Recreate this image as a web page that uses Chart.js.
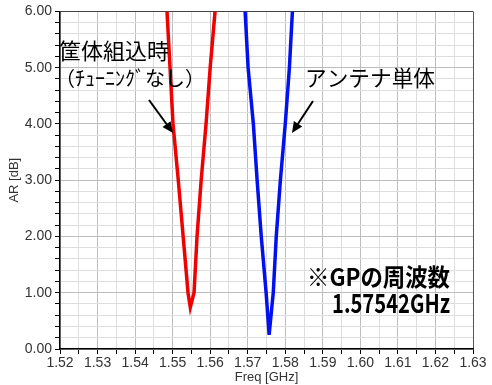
<!DOCTYPE html>
<html>
<head>
<meta charset="utf-8">
<script src="https://cdn.jsdelivr.net/npm/chart.js@4"></script>
<style>
  body { margin: 0; background: #fff; }
</style>
</head>
<body>
<canvas id="arChart" width="492" height="385"></canvas>
<script>
// AR vs frequency
const redFreq = [1.5485, 1.5493, 1.5501, 1.5515, 1.5528, 1.5541, 1.5547, 1.5557, 1.5565, 1.5576, 1.5589, 1.5600, 1.5613];
const redAR   = [6.00, 5.00, 4.00, 3.00, 2.00, 1.00, 0.74, 1.00, 2.00, 3.00, 4.00, 5.00, 6.00];
const blueFreq = [1.5693, 1.5701, 1.5715, 1.5725, 1.5736, 1.5749, 1.5757, 1.5768, 1.5776, 1.5787, 1.5800, 1.5811, 1.5819];
const blueAR   = [6.00, 5.00, 4.00, 3.00, 2.00, 1.00, 0.25, 1.00, 2.00, 3.00, 4.00, 5.00, 6.00];
const xTickLabels = ['1.52', '1.53', '1.54', '1.55', '1.56', '1.57', '1.58', '1.59', '1.60', '1.61', '1.62', '1.63'];
const yTickLabels = ['0.00', '1.00', '2.00', '3.00', '4.00', '5.00', '6.00'];

function toPoints(xs, ys) {
  return xs.map((x, i) => ({ x: x, y: ys[i] }));
}

const tickFont = { family: 'Liberation Sans, Arial, sans-serif', size: 14 };
const titleFont = { family: 'Liberation Sans, Arial, sans-serif', size: 13 };
const jpFont = '"Noto Sans CJK JP", sans-serif';

function arrow(ctx, x1, y1, x2, y2) {
  const a = Math.atan2(y2 - y1, x2 - x1);
  ctx.beginPath();
  ctx.moveTo(x1, y1);
  ctx.lineTo(x2 - 8 * Math.cos(a), y2 - 8 * Math.sin(a));
  ctx.stroke();
  ctx.beginPath();
  ctx.moveTo(x2, y2);
  ctx.lineTo(x2 - 11 * Math.cos(a) + 5 * Math.sin(a), y2 - 11 * Math.sin(a) - 5 * Math.cos(a));
  ctx.lineTo(x2 - 11 * Math.cos(a) - 5 * Math.sin(a), y2 - 11 * Math.sin(a) + 5 * Math.cos(a));
  ctx.closePath();
  ctx.fill();
}

const notes = {
  id: 'notes',
  afterDraw(chart) {
    const ctx = chart.ctx;
    ctx.save();
    ctx.fillStyle = '#000';
    ctx.strokeStyle = '#000';
    ctx.lineWidth = 2;
    ctx.textBaseline = 'middle';
    ctx.textAlign = 'left';

    ctx.font = '22px ' + jpFont;
    ctx.fillText('筐体組込時', 59, 51, 112);
    ctx.font = '20px ' + jpFont;
    ctx.fillText('（ﾁｭｰﾆﾝｸﾞなし）', 55, 78, 150);
    ctx.font = '22px ' + jpFont;
    ctx.fillText('アンテナ単体', 305, 78, 130);

    ctx.font = 'bold 24px ' + jpFont;
    ctx.fillText('※GPの周波数', 307, 277, 143);
    ctx.font = 'bold 26px ' + jpFont;
    ctx.fillText('1.57542GHz', 332, 303, 118);

    arrow(ctx, 149, 100, 173, 133);
    arrow(ctx, 313, 101, 292, 133);
    ctx.restore();
  }
};

const ctx = document.getElementById('arChart').getContext('2d');
new Chart(ctx, {
  type: 'scatter',
  data: {
    datasets: [
      {
        label: '筐体組込時',
        data: toPoints(redFreq, redAR),
        showLine: true,
        borderColor: '#f00000',
        borderWidth: 3.5,
        pointRadius: 0,
        tension: 0
      },
      {
        label: 'アンテナ単体',
        data: toPoints(blueFreq, blueAR),
        showLine: true,
        borderColor: '#0010f0',
        borderWidth: 3.5,
        pointRadius: 0,
        tension: 0
      }
    ]
  },
  options: {
    responsive: false,
    animation: false,
    layout: { padding: { top: 10, right: 19, left: 0, bottom: 0 } },
    plugins: {
      legend: { display: false },
      tooltip: { enabled: false }
    },
    scales: {
      x: {
        type: 'linear',
        min: 1.52,
        max: 1.63,
        afterFit: s => { s.height = 36; },
        border: { color: '#000', width: 1.5 },
        grid: {
          color: c => {
            const k = Math.round(c.tick.value * 1000);
            if (k === 1630) return '#555';
            return k % 10 === 0 ? '#bdbdbd' : '#dedede';
          },
          tickColor: '#000',
          tickLength: 5
        },
        ticks: {
          stepSize: 0.005,
          autoSkip: false,
          maxRotation: 0,
          padding: 1,
          color: '#333',
          font: tickFont,
          callback: v => {
            const k = Math.round(v * 1000);
            return k % 10 === 0 ? xTickLabels[(k - 1520) / 10] : '';
          }
        },
        title: {
          display: true,
          text: 'Freq [GHz]',
          color: '#333',
          font: titleFont,
          padding: 0
        }
      },
      y: {
        type: 'linear',
        min: 0,
        max: 6,
        afterFit: s => { s.width = 60; },
        border: { color: '#000', width: 1.5 },
        grid: {
          color: c => {
            const k = Math.round(c.tick.value * 10);
            if (k === 60) return '#444';
            return k % 10 === 0 ? '#bdbdbd' : '#dedede';
          },
          tickColor: '#000',
          tickLength: 5
        },
        ticks: {
          stepSize: 0.2,
          autoSkip: false,
          padding: 3,
          color: '#333',
          font: tickFont,
          callback: v => {
            const k = Math.round(v * 10);
            return k % 10 === 0 ? yTickLabels[k / 10] : '';
          }
        },
        title: {
          display: true,
          text: 'AR [dB]',
          color: '#333',
          font: titleFont,
          padding: { top: 7, bottom: 0 }
        }
      }
    }
  },
  plugins: [notes]
});
</script>
</body>
</html>
